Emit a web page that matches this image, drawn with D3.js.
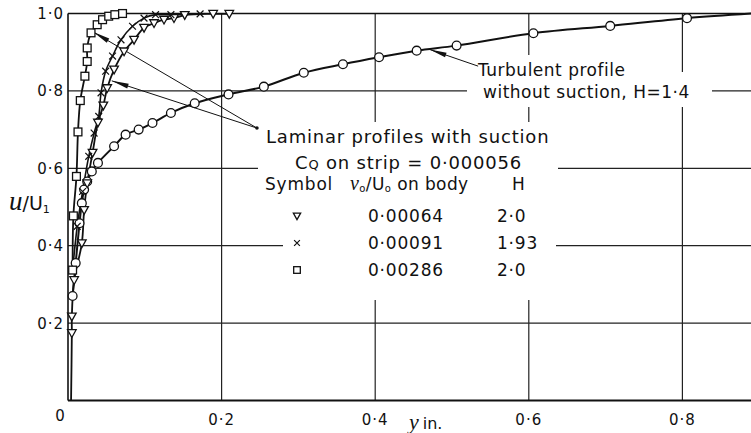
<!DOCTYPE html>
<html>
<head>
<meta charset="utf-8">
<script src="https://cdn.jsdelivr.net/npm/d3@7"></script>
<style>
  html, body { margin: 0; padding: 0; background: #fff; }
  svg { display: block; }
  text { font-family: "DejaVu Sans", "Noto Sans", sans-serif; fill: #111; }
</style>
</head>
<body>
<svg id="chart" width="751" height="433"></svg>
<script>
// Boundary-layer velocity profiles: distance from wall y (in.) against u/U1.

// Turbulent profile without suction, H = 1.4 (circles)
const turbulent = [
  [0.006, 0.270], [0.010, 0.355], [0.015, 0.458], [0.018, 0.510], [0.021, 0.545],
  [0.025, 0.566], [0.031, 0.592], [0.039, 0.614], [0.060, 0.657], [0.075, 0.687],
  [0.092, 0.700], [0.110, 0.717], [0.134, 0.743], [0.165, 0.768], [0.209, 0.791],
  [0.255, 0.811], [0.307, 0.847], [0.358, 0.869], [0.405, 0.887], [0.454, 0.904],
  [0.506, 0.917], [0.606, 0.949], [0.706, 0.968], [0.806, 0.988]
];
// the faired turbulent curve runs on to the free stream beyond the last point
const turbulentRunOut = [0.89, 1.0];

// Laminar profiles with suction, v0/U0 = 0.00064 (triangles)
const triangles = [
  [0.005, 0.174], [0.005, 0.217], [0.008, 0.311], [0.018, 0.406], [0.021, 0.492],
  [0.025, 0.561], [0.032, 0.640], [0.039, 0.718], [0.046, 0.762], [0.051, 0.807],
  [0.060, 0.855], [0.073, 0.902], [0.086, 0.932], [0.099, 0.963], [0.112, 0.975],
  [0.125, 0.984], [0.138, 0.988], [0.152, 0.996], [0.189, 0.999], [0.210, 0.999]
];
// the triangle curve is faired down to the wall
const triangleWall = [0.004, 0.0];

// v0/U0 = 0.00091 (crosses)
const crosses = [
  [0.006, 0.337], [0.012, 0.450], [0.019, 0.540], [0.027, 0.631], [0.034, 0.691],
  [0.040, 0.734], [0.043, 0.795], [0.049, 0.851], [0.058, 0.890], [0.069, 0.932],
  [0.084, 0.967], [0.099, 0.988], [0.114, 0.997], [0.134, 0.997], [0.172, 0.999]
];

// v0/U0 = 0.00286 (squares)
const squares = [
  [0.006, 0.337], [0.007, 0.477], [0.011, 0.579], [0.013, 0.694], [0.016, 0.775],
  [0.022, 0.838], [0.025, 0.876], [0.025, 0.911], [0.030, 0.950], [0.038, 0.971],
  [0.045, 0.984], [0.053, 0.993], [0.061, 0.997], [0.071, 1.000]
];

const xTicks = [0.2, 0.4, 0.6, 0.8];
const xTickLabels = ["0·2", "0·4", "0·6", "0·8"];
const yTicks = [0.2, 0.4, 0.6, 0.8, 1.0];
const yTickLabels = ["0·2", "0·4", "0·6", "0·8", "1·0"];

const legendSymbols = ["triangle", "cross", "square"];
const legendSuction = ["0·00064", "0·00091", "0·00286"];
const legendH = ["2·0", "1·93", "2·0"];

// ---------------------------------------------------------------------------
const svg = d3.select("#chart");
const W = 751, H = 433;

const x = d3.scaleLinear().domain([0, 1]).range([68, 836]);
const y = d3.scaleLinear().domain([0, 1]).range([400.5, 13.5]);

const defs = svg.append("defs");

// grid lines are broken where the lettering sits
const mask = defs.append("mask").attr("id", "gridGaps")
  .attr("maskUnits", "userSpaceOnUse").attr("x", 0).attr("y", 0)
  .attr("width", W).attr("height", H);
mask.append("rect").attr("width", W).attr("height", H).attr("fill", "#fff");
const gaps = [
  [470, 55, 640, 80],    // "Turbulent profile"
  [467, 72, 712, 107],   // "without suction, H=1·4"
  [258, 122, 558, 200],  // legend heading lines
  [283, 122, 556, 300]   // legend table
];
mask.selectAll("rect.gap").data(gaps).join("rect").attr("class", "gap")
  .attr("x", d => d[0]).attr("y", d => d[1])
  .attr("width", d => d[2] - d[0]).attr("height", d => d[3] - d[1])
  .attr("fill", "#000");

const grid = svg.append("g").attr("mask", "url(#gridGaps)")
  .attr("stroke", "#222").attr("stroke-width", 1.2);
grid.selectAll("line.v").data(xTicks).join("line").attr("class", "v")
  .attr("x1", d => x(d)).attr("x2", d => x(d))
  .attr("y1", y(0)).attr("y2", y(1));
grid.selectAll("line.h").data(yTicks.filter(t => t < 1)).join("line").attr("class", "h")
  .attr("x1", x(0)).attr("x2", W)
  .attr("y1", d => y(d)).attr("y2", d => y(d));

// frame: wall, free-stream line and y axis
const frame = svg.append("g").attr("stroke", "#111").attr("fill", "none");
frame.append("line").attr("x1", x(0)).attr("x2", W).attr("y1", y(1)).attr("y2", y(1)).attr("stroke-width", 1.6);
frame.append("line").attr("x1", x(0)).attr("x2", W).attr("y1", y(0)).attr("y2", y(0)).attr("stroke-width", 2);
frame.append("line").attr("x1", x(0)).attr("x2", x(0)).attr("y1", y(0)).attr("y2", y(1)).attr("stroke-width", 1.6);

// tick labels
const tickFont = { size: 15, spacing: 1 };
svg.append("g").selectAll("text").data(yTicks).join("text")
  .attr("x", x(0) - 4).attr("y", d => y(d)).attr("dy", "0.36em")
  .attr("text-anchor", "end").attr("font-size", tickFont.size)
  .attr("letter-spacing", tickFont.spacing)
  .text((d, i) => yTickLabels[i]);
svg.append("g").selectAll("text").data(xTicks).join("text")
  .attr("x", d => x(d)).attr("y", 425)
  .attr("text-anchor", "middle").attr("font-size", tickFont.size)
  .attr("letter-spacing", tickFont.spacing)
  .text((d, i) => xTickLabels[i]);
svg.append("text").attr("x", x(0) - 8).attr("y", 421)
  .attr("text-anchor", "middle").attr("font-size", tickFont.size).text("0");

// axis titles
const yTitle = svg.append("text").attr("x", 9).attr("y", 210).attr("font-size", 19);
yTitle.append("tspan").attr("font-family", "Liberation Serif, serif").attr("font-style", "italic")
  .attr("font-size", 27).text("u");
yTitle.append("tspan").text("/U");
yTitle.append("tspan").attr("font-size", 11).attr("dy", 3).text("1");

const xTitle = svg.append("text").attr("x", 409).attr("y", 429).attr("font-size", 16);
xTitle.append("tspan").attr("font-family", "Liberation Serif, serif").attr("font-style", "italic")
  .attr("font-size", 22).text("y");
xTitle.append("tspan").attr("dx", 4).text("in.");

// pointer lines with long narrow arrowheads
function pointer(g, from, to) {
  const x0 = x(from[0]), y0 = y(from[1]), x1 = x(to[0]), y1 = y(to[1]);
  g.append("line").attr("x1", x0).attr("y1", y0).attr("x2", x1).attr("y2", y1)
    .attr("stroke", "#111").attr("stroke-width", 1);
  const len = Math.hypot(x0 - x1, y0 - y1), ux = (x0 - x1) / len, uy = (y0 - y1) / len;
  const L = 17, w = 2.4;
  const bx = x1 + ux * L, by = y1 + uy * L;
  g.append("path")
    .attr("d", `M${x1},${y1}L${bx - uy * w},${by + ux * w}L${bx + uy * w},${by - ux * w}Z`)
    .attr("fill", "#111");
}
const notes = svg.append("g");
const laminarAnchor = [0.246, 0.704];
pointer(notes, laminarAnchor, [0.033, 0.952]);
pointer(notes, laminarAnchor, [0.057, 0.826]);
notes.append("circle").attr("cx", x(laminarAnchor[0])).attr("cy", y(laminarAnchor[1]))
  .attr("r", 1.8).attr("fill", "#111");
pointer(notes, [0.534, 0.864], [0.471, 0.907]);

// faired curves
const curve = d3.line().x(d => x(d[0])).y(d => y(d[1])).curve(d3.curveCatmullRom.alpha(0.5));
const curves = svg.append("g").attr("fill", "none").attr("stroke", "#111");
curves.append("path").attr("d", curve(turbulent.concat([turbulentRunOut]))).attr("stroke-width", 2);
curves.append("path").attr("d", curve([triangleWall].concat(triangles))).attr("stroke-width", 1.8);
curves.append("path").attr("d", curve(crosses)).attr("stroke-width", 1.6);
curves.append("path").attr("d", curve(squares)).attr("stroke-width", 1.8);

// marker shapes
function drawMarker(g, kind, cx, cy, s) {
  if (kind === "circle") {
    g.append("circle").attr("cx", cx).attr("cy", cy).attr("r", 4.4 * s)
      .attr("fill", "#fff").attr("stroke", "#111").attr("stroke-width", 1.3);
  } else if (kind === "square") {
    const h = 3.9 * s;
    g.append("rect").attr("x", cx - h).attr("y", cy - h).attr("width", 2 * h).attr("height", 2 * h)
      .attr("fill", "#fff").attr("stroke", "#111").attr("stroke-width", 1.3);
  } else if (kind === "triangle") {
    const h = 4.3 * s;
    g.append("path").attr("d", `M${cx - h},${cy - h * 0.8}L${cx + h},${cy - h * 0.8}L${cx},${cy + h}Z`)
      .attr("fill", "#fff").attr("stroke", "#111").attr("stroke-width", 1.3);
  } else {
    const h = 3.4 * s;
    g.append("path").attr("d", `M${cx - h},${cy - h}L${cx + h},${cy + h}M${cx - h},${cy + h}L${cx + h},${cy - h}`)
      .attr("stroke", "#111").attr("stroke-width", 1.2);
  }
}
const marks = svg.append("g");
[[turbulent, "circle"], [triangles, "triangle"], [crosses, "cross"], [squares, "square"]]
  .forEach(([pts, kind]) => pts.forEach(p => drawMarker(marks, kind, x(p[0]), y(p[1]), 1)));

// annotations
const label = svg.append("g").attr("font-size", 17);
label.append("text").attr("x", 478).attr("y", 76).attr("letter-spacing", 0.5).text("Turbulent profile");
label.append("text").attr("x", 483).attr("y", 98).attr("letter-spacing", 0.5).text("without suction, H=1·4");

const legend = svg.append("g").attr("font-size", 17).attr("letter-spacing", 0.8);
legend.append("text").attr("x", 266).attr("y", 143).attr("font-size", 18).text("Laminar profiles with suction");
const cq = legend.append("text").attr("x", 295).attr("y", 169).attr("font-size", 18);
cq.append("tspan").text("C");
cq.append("tspan").attr("font-size", 13).text("Q");
cq.append("tspan").text(" on strip = 0·000056");
legend.append("text").attr("x", 265).attr("y", 190).text("Symbol");
const vh = legend.append("text").attr("x", 350).attr("y", 190).attr("letter-spacing", 0.4);
vh.append("tspan").attr("font-family", "Liberation Serif, serif").attr("font-style", "italic")
  .attr("font-size", 20).text("v");
vh.append("tspan").attr("font-size", 10).attr("dy", 2).text("o");
vh.append("tspan").attr("dy", -2).text("/U");
vh.append("tspan").attr("font-size", 10).attr("dy", 2).text("o");
vh.append("tspan").attr("dy", -2).text(" on body");
legend.append("text").attr("x", 512).attr("y", 190).text("H");

const rowY = [222, 249, 276];
legendSymbols.forEach((kind, i) => {
  drawMarker(legend, kind, 297, rowY[i] - 6, 0.85);
  legend.append("text").attr("x", 368).attr("y", rowY[i]).text(legendSuction[i]);
  legend.append("text").attr("x", 497).attr("y", rowY[i]).text(legendH[i]);
});
</script>
</body>
</html>
